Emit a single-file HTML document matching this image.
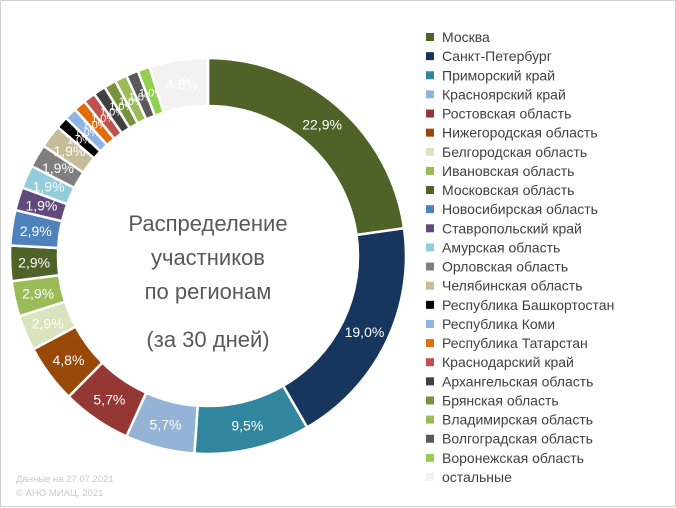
<!DOCTYPE html>
<html><head><meta charset="utf-8"><style>
body{margin:0;background:#fff;}
#wrap{position:relative;width:676px;height:507px;box-sizing:border-box;border:1px solid #d0d0d0;background:#fff;font-family:"Liberation Sans","DejaVu Sans",sans-serif;}
svg{position:absolute;left:0;top:0;}
</style></head><body>
<div id="wrap">
<svg id="chart" width="676" height="507"></svg>
</div>
<script>
const categories=["Москва","Санкт-Петербург","Приморский край","Красноярский край","Ростовская область","Нижегородская область","Белгородская область","Ивановская область","Московская область","Новосибирская область","Ставропольский край","Амурская область","Орловская область","Челябинская область","Республика Башкортостан","Республика Коми","Республика Татарстан","Краснодарский край","Архангельская область","Брянская область","Владимирская область","Волгоградская область","Воронежская область","остальные"];
const values=[22.9,19.0,9.5,5.7,5.7,4.8,2.9,2.9,2.9,2.9,1.9,1.9,1.9,1.9,1.0,1.0,1.0,1.0,1.0,1.0,1.0,1.0,1.0,4.8];
const labels=["22,9%","19,0%","9,5%","5,7%","5,7%","4,8%","2,9%","2,9%","2,9%","2,9%","1,9%","1,9%","1,9%","1,9%","1,0%","1,0%","1,0%","1,0%","1,0%","1,0%","1,0%","1,0%","1,0%","4,8%"];
const colors=["#4f6228","#17365d","#31859c","#95b3d7","#953735","#984807","#d7e4bd","#9bbb59","#4f6228","#4f81bd","#604a7b","#93cddd","#7f7f7f","#c4bd97","#000000","#8db4e2","#e46c0a","#c0504d","#404040","#77933c","#9bbb59","#595959","#92d050","#f2f2f2"];
const svg=document.getElementById('chart');
const NS='http://www.w3.org/2000/svg';
const cx=207,cy=255,R=198,r=150;
const total=values.reduce((a,b)=>a+b,0);
function pt(rad,a){return [cx+rad*Math.sin(a),cy-rad*Math.cos(a)];}
let acc=0;
values.forEach((v,i)=>{
  const a0=acc/total*2*Math.PI;acc+=v;const a1=acc/total*2*Math.PI;
  const large=(a1-a0)>Math.PI?1:0;
  const p1=pt(R,a0),p2=pt(R,a1),p3=pt(r,a1),p4=pt(r,a0);
  const p=document.createElementNS(NS,'path');
  p.setAttribute('d',`M${p1} A${R},${R} 0 ${large} 1 ${p2} L${p3} A${r},${r} 0 ${large} 0 ${p4} Z`);
  p.setAttribute('fill',colors[i]);p.setAttribute('stroke','#fff');p.setAttribute('stroke-width','2.5');
  
  
  svg.appendChild(p);
  const am=(a0+a1)/2;const lp=pt((R+r)/2,am);
  const t=document.createElementNS(NS,'text');
  t.setAttribute('x',lp[0]);t.setAttribute('y',lp[1]+5);t.setAttribute('text-anchor','middle');
  t.setAttribute('font-size',v<1.5?'11':'14');t.setAttribute('fill','#fff');
  t.textContent=labels[i];
  
  
  svg.appendChild(t);
});
const center=[["Распределение",230],["участников",264],["по регионам",298],["(за 30 дней)",346]];
center.forEach((c,i)=>{
  const t=document.createElementNS(NS,'text');
  t.setAttribute('x',cx);t.setAttribute('y',c[1]);t.setAttribute('text-anchor','middle');
  t.setAttribute('font-size','22');t.setAttribute('fill','#595959');t.textContent=c[0];
  
  
  svg.appendChild(t);
});
categories.forEach((c,i)=>{
  const y=36+i*19.13;
  const m=document.createElementNS(NS,'rect');
  m.setAttribute('x',425);m.setAttribute('y',y-4);m.setAttribute('width',8);m.setAttribute('height',8);
  m.setAttribute('fill',colors[i]);
  
  
  svg.appendChild(m);
  const t=document.createElementNS(NS,'text');
  t.setAttribute('x',441);t.setAttribute('y',y+5);t.setAttribute('font-size','14');t.setAttribute('fill','#404040');
  t.textContent=c;
  
  
  svg.appendChild(t);
});
[["Данные на 27.07.2021",481],["© АНО МИАЦ, 2021",495]].forEach(f=>{
  const t=document.createElementNS(NS,'text');
  t.setAttribute('x',15);t.setAttribute('y',f[1]);t.setAttribute('font-size','9.5');t.setAttribute('fill','#c8c8c8');
  t.textContent=f[0];
  
  
  svg.appendChild(t);
});
</script>
</body></html>
